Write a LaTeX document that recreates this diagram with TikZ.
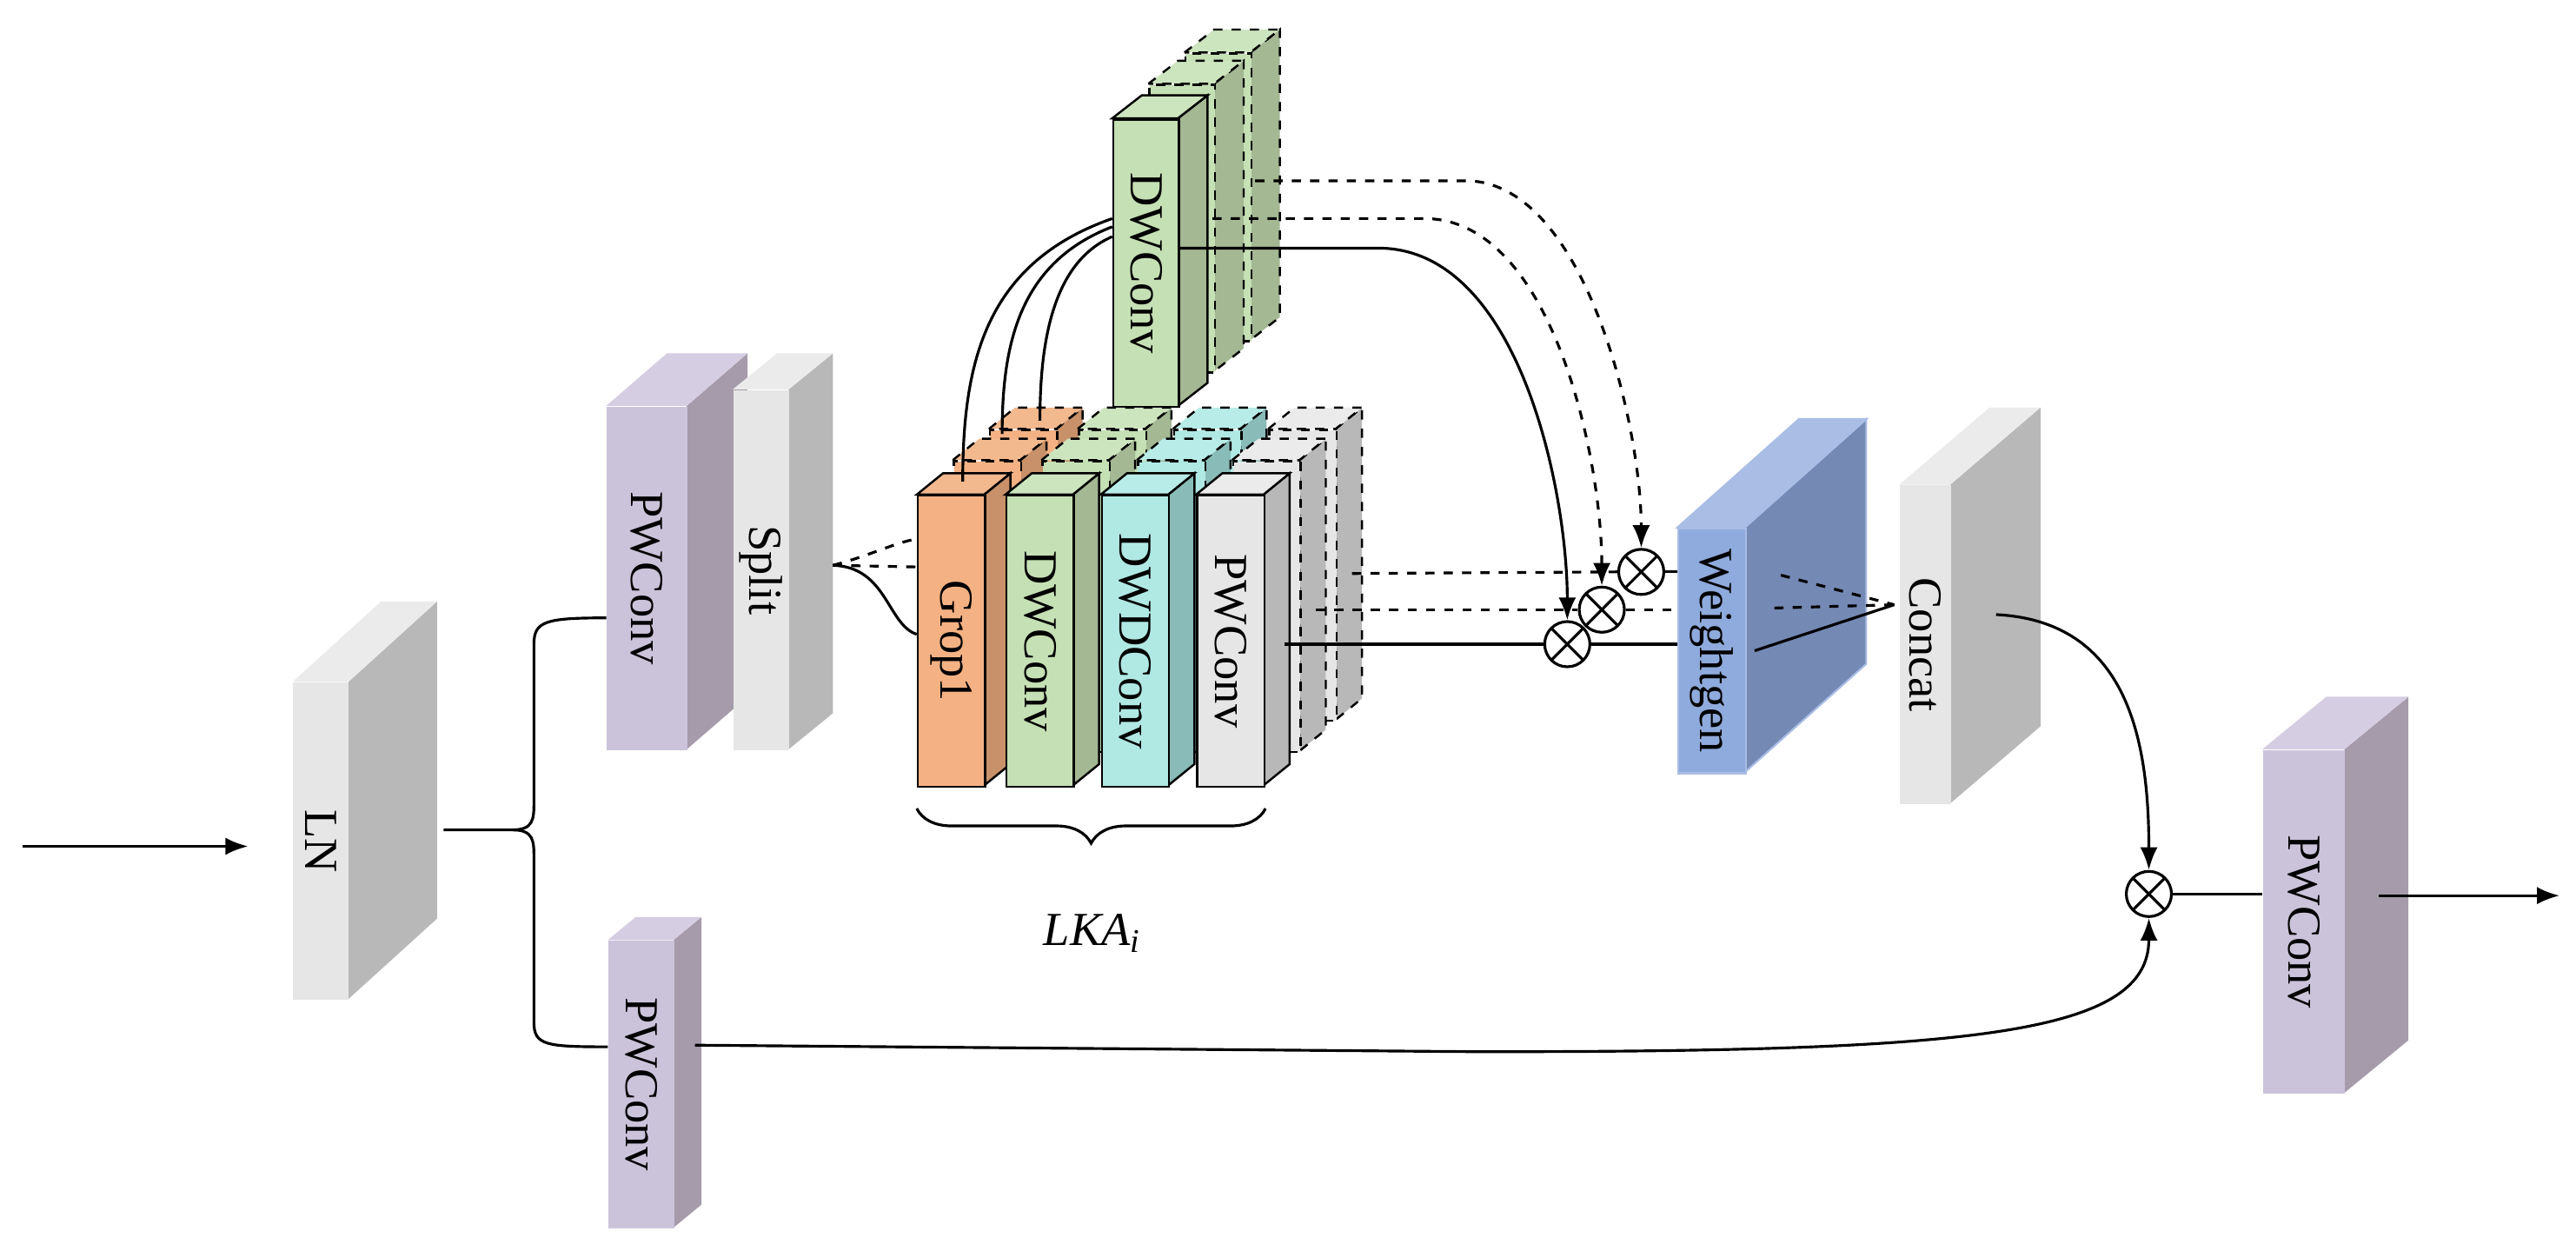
\documentclass[tikz,border=0pt]{standalone}
\usepackage{fontspec}
\setmainfont{Liberation Serif}
\usetikzlibrary{arrows.meta,decorations.pathreplacing}

\definecolor{purF}{HTML}{CBC3DA}\definecolor{purS}{HTML}{A59BAB}\definecolor{purT}{HTML}{D5CDE2}
\definecolor{gryF}{HTML}{E6E6E6}\definecolor{gryS}{HTML}{B8B8B8}\definecolor{gryT}{HTML}{EBEBEB}
\definecolor{orgF}{HTML}{F4B183}\definecolor{orgS}{HTML}{C8916A}\definecolor{orgT}{HTML}{F2B88E}
\definecolor{grnF}{HTML}{C5E0B4}\definecolor{grnS}{HTML}{A3B893}\definecolor{grnT}{HTML}{CDE5BE}
\definecolor{cyaF}{HTML}{B0E8E4}\definecolor{cyaS}{HTML}{89BBB8}\definecolor{cyaT}{HTML}{B8ECE8}
\definecolor{bluF}{HTML}{8FAADC}\definecolor{bluS}{HTML}{7489B4}\definecolor{bluT}{HTML}{A9BDE5}

% block: [style]{name}{x}{y}{w}{h}{dx}{dy}{colour prefix}
\newcommand{\blk}[9][draw=none]{%
  \path[#1,fill=#9S] ({#3+#5},#4) -- ++(#7,-#8) -- ++(0,#6) -- ++(-#7,#8) -- cycle;
  \path[#1,fill=#9T] (#3,#4) -- ++(#7,-#8) -- ++(#5,0) -- ++(-#7,#8) -- cycle;
  \node[#1,fill=#9F,anchor=north west,inner sep=0,
        minimum width={#5*0.0189cm},minimum height={#6*0.0189cm}] (#2) at (#3,#4) {};}

\tikzset{
  lbl/.style={rotate=-90,font=\fontsize{15.5}{18}\selectfont},
  ln/.style={line width=0.9pt},
  arr/.style={ln,-{Latex[length=0.26cm,width=0.2cm]}},
  bx/.style={draw=black,line width=0.7pt},
  cp/.style={draw=black,line width=0.7pt,dashed},
  ot/.style={circle,draw,fill=white,ln,minimum size=0.52cm,inner sep=0,
    path picture={\draw[ln] (path picture bounding box.north west)--(path picture bounding box.south east)
      (path picture bounding box.north east)--(path picture bounding box.south west);}},
}

\begin{document}
\begin{tikzpicture}[x=0.0189cm,y=-0.0189cm]
\useasboundingbox (0,0) rectangle (1568,761);

% left part
\blk{ln}{178}{415}{34}{193}{54}{49}{gry}
\blk{pw1}{369}{247}{49}{209}{37}{32}{pur}
\blk{split}{446}{237}{34}{219}{27}{22}{gry}
\blk{pw2}{370}{572}{40}{175}{17}{14}{pur}

% top DWConv stack
\blk[cp]{dwb}{721}{32}{40}{175}{18}{14}{grn}
\blk[cp]{dwa}{699}{51}{40}{175}{18}{14}{grn}
\blk[bx]{dw}{677}{72}{40}{175}{18}{14}{grn}

% LKA group
\blk[cp]{g1b}{602}{261}{41}{177}{16}{13}{org}
\blk[cp]{g2b}{656}{261}{41}{177}{16}{13}{grn}
\blk[cp]{g3b}{714}{261}{41}{177}{16}{13}{cya}
\blk[cp]{g4b}{772}{261}{41}{177}{16}{13}{gry}
\blk[cp]{g1a}{580}{280}{41}{177}{16}{13}{org}
\blk[cp]{g2a}{634}{280}{41}{177}{16}{13}{grn}
\blk[cp]{g3a}{692}{280}{41}{177}{16}{13}{cya}
\blk[cp]{g4a}{750}{280}{41}{177}{16}{13}{gry}
\blk[bx]{g1}{558}{301}{41}{177}{16}{13}{org}
\blk[bx]{g2}{612}{301}{41}{177}{16}{13}{grn}
\blk[bx]{g3}{670}{301}{41}{177}{16}{13}{cya}
\blk[bx]{g4}{728}{301}{41}{177}{16}{13}{gry}

% right part
\blk[draw=bluT,line width=0.6pt]{wg}{1021}{321}{41}{149}{74}{66}{blu}
\blk{cc}{1156}{295}{31}{194}{55}{47}{gry}
\blk{pw3}{1377}{456}{50}{209}{39}{32}{pur}

% labels
\node[lbl] at (ln.center) {LN};
\node[lbl] at (pw1.center) {PWConv};
\node[lbl] at (split.center) {Split};
\node[lbl] at (pw2.center) {PWConv};
\node[lbl] at (dw.center) {DWConv};
\node[lbl] at (g1.center) {Grop1};
\node[lbl] at (g2.center) {DWConv};
\node[lbl] at (g3.center) {DWDConv};
\node[lbl] at (g4.center) {PWConv};
\node[lbl] at (wg.center) {Weightgen};
\node[lbl] at (cc.center) {Concat};
\node[lbl] at (pw3.center) {PWConv};

% multiply nodes
\node[ot] (c1) at (954,392) {};
\node[ot] (c2) at (975,371) {};
\node[ot] (c3) at (999,348) {};
\node[ot] (cf) at (1308,544) {};

% coordinates
\coordinate (in) at (14,515);
\coordinate (inE) at (151,515);
\coordinate (lnO) at (270,505);
\coordinate (spO) at (507,344);
\coordinate (pw2O) at (423,636);
\coordinate (dwO) at (717,151);
\coordinate (dwaO) at (738,133);
\coordinate (dwbO) at (764,110);
\coordinate (g4O) at (782,392);
\coordinate (g4aO) at (801,371);
\coordinate (g4bO) at (823,349);
\coordinate (ccI) at (1153,368);
\coordinate (ccO) at (1215,374);
\coordinate (pw3O) at (1448,545);
\coordinate (out) at (1558,545);

% connectors
\draw[arr] (in) -- (inE);
\draw[ln] (lnO) -- (312,505) .. controls (325,505) and (325,498) .. (325,488)
  -- (325,392) .. controls (325,378) and (332,376) .. (pw1.west |- 0,376);
\draw[ln] (312,505) .. controls (325,505) and (325,512) .. (325,522)
  -- (325,622) .. controls (325,636) and (332,637) .. (pw2.west |- 0,637);
\draw[ln,dashed] (spO) -- (g1.west |- 0,345);
\draw[ln,dashed] (spO) .. controls (530,338) and (545,330) .. (g1.west |- 0,328);
\draw[ln] (spO) .. controls (540,345) and (540,380) .. (g1.west |- 0,386);

\draw[ln] (dw.west |- 0,133) .. controls (600,160) and (586,220) .. (586,293);
\draw[ln] (dw.west |- 0,138) .. controls (620,160) and (610,210) .. (610,264);
\draw[ln] (dw.west |- 0,144) .. controls (640,160) and (633,210) .. (633,256);

\draw[arr] (dwO) -- (839,151) .. controls (925,151) and (954,300) .. (c1.north);
\draw[arr,dashed] (dwaO) -- (867,133) .. controls (945,133) and (975,280) .. (c2.north);
\draw[arr,dashed] (dwbO) -- (892,110) .. controls (965,110) and (999,260) .. (c3.north);

\draw[ln] (g4O) -- (c1.west);
\draw[ln,dashed] (g4aO) -- (c2.west);
\draw[ln,dashed] (g4bO) -- (c3.west);
\draw[ln] (c1.east) -- (wg.west |- c1);
\draw[ln,dashed] (c2.east) -- (wg.west |- c2);
\draw[ln] (c3.east) -- (wg.west |- c3);

\draw[ln,dashed] (1084,350) -- (ccI);
\draw[ln,dashed] (1080,370) -- (ccI);
\draw[ln] (1068,396) -- (ccI);

\draw[arr] (ccO) .. controls (1295,378) and (1308,450) .. (cf.north);
\draw[arr] (pw2O) -- (900,640) .. controls (1200,640) and (1308,630) .. (cf.south);
\draw[ln] (cf.east) -- (pw3.west |- cf);
\draw[arr] (pw3O) -- (out);

% LKA brace
\draw[ln,decorate,decoration={brace,mirror,amplitude=0.4cm}] (g1.south west |- 0,492) -- (g4.south east |- 0,492);
\node[font=\fontsize{15.5}{18}\selectfont\itshape] (lka) at (665,568) {LKA\textsubscript{i}};
\end{tikzpicture}
\end{document}
